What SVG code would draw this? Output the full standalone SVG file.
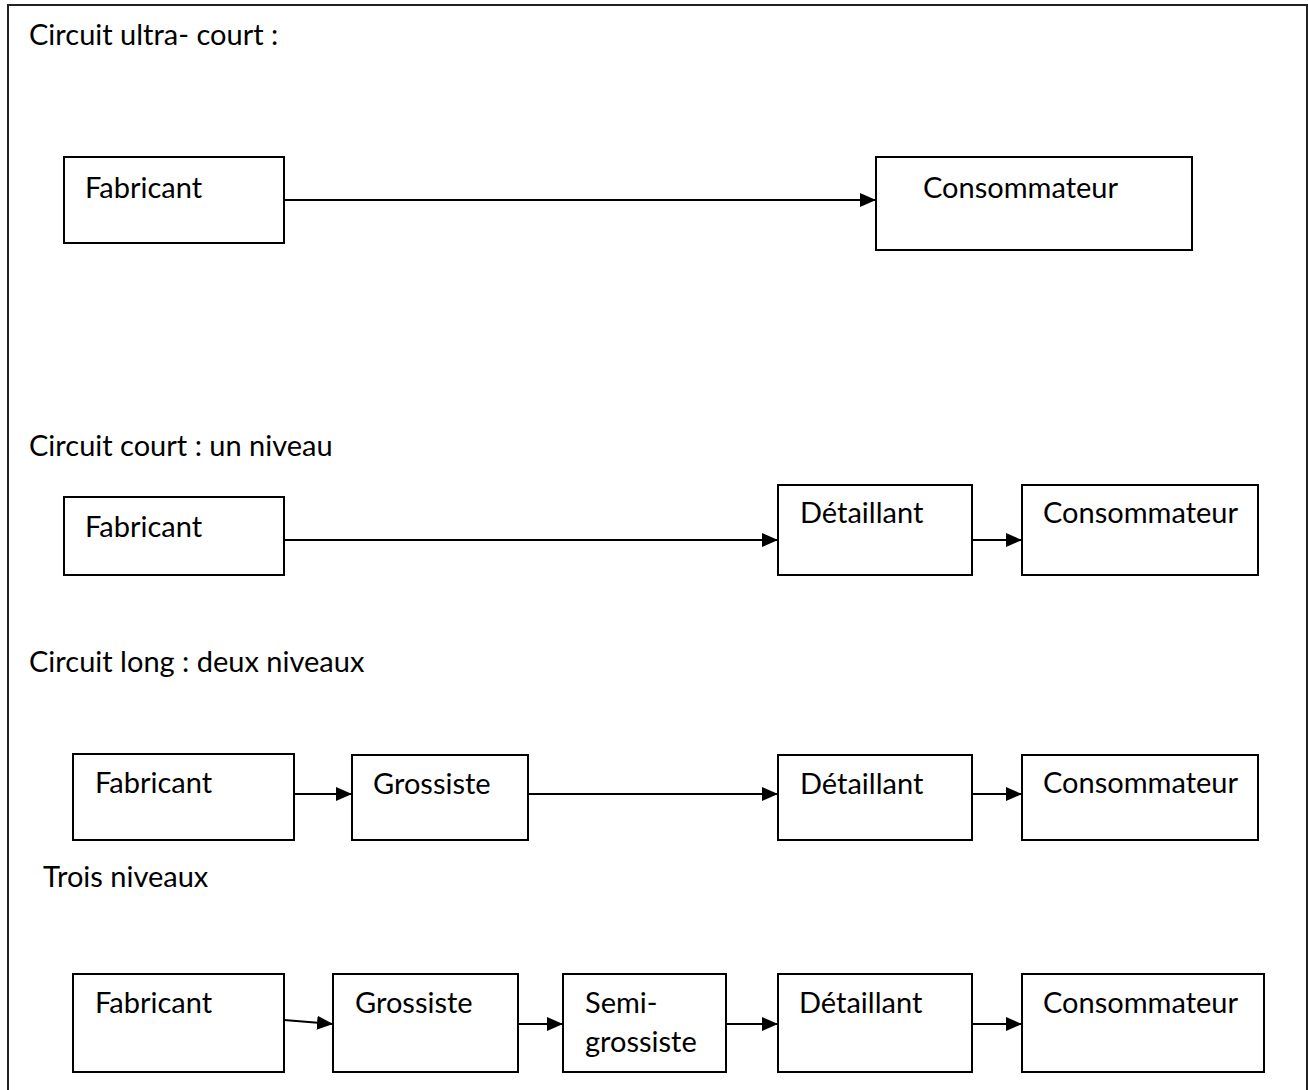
<svg xmlns="http://www.w3.org/2000/svg" width="1308" height="1090" viewBox="0 0 1308 1090">
  <style>
    .frame { fill: none; stroke: #222; stroke-width: 2; }
    .box { fill: #fff; stroke: #000; stroke-width: 2; }
    .lbl { font-family: Lato, "Liberation Sans", sans-serif; font-size: 29px; fill: #000; }
    .edge { fill: none; stroke: #000; stroke-width: 2; }
  </style>
  <defs>
    <marker id="arrow" markerUnits="userSpaceOnUse" markerWidth="16" markerHeight="14" refX="16" refY="7" orient="auto">
      <path d="M0,0 L16,7 L0,14 z" fill="#000"/>
    </marker>
  </defs>

  <rect width="1308" height="1090" fill="#fff"/>
  <!-- page frame (open at the bottom) -->
  <path class="frame" d="M8,1090 V5 H1307 V1090"/>

  <!-- section headings -->
  <text class="lbl" x="29" y="45">Circuit ultra- court :</text>
  <text class="lbl" x="29" y="456">Circuit court : un niveau</text>
  <text class="lbl" x="29" y="672">Circuit long : deux niveaux</text>
  <text class="lbl" x="43" y="887">Trois niveaux</text>

  <!-- connectors -->
  <g id="connectors">
    <line class="edge" x1="284" y1="200" x2="876" y2="200" marker-end="url(#arrow)"/>

    <line class="edge" x1="284" y1="540" x2="778" y2="540" marker-end="url(#arrow)"/>
    <line class="edge" x1="972" y1="540" x2="1022" y2="540" marker-end="url(#arrow)"/>

    <line class="edge" x1="294" y1="794" x2="352" y2="794" marker-end="url(#arrow)"/>
    <line class="edge" x1="528" y1="794" x2="778" y2="794" marker-end="url(#arrow)"/>
    <line class="edge" x1="972" y1="794" x2="1022" y2="794" marker-end="url(#arrow)"/>

    <line class="edge" x1="284" y1="1020" x2="333" y2="1024" marker-end="url(#arrow)"/>
    <line class="edge" x1="518" y1="1024" x2="563" y2="1024" marker-end="url(#arrow)"/>
    <line class="edge" x1="726" y1="1024" x2="778" y2="1024" marker-end="url(#arrow)"/>
    <line class="edge" x1="972" y1="1024" x2="1022" y2="1024" marker-end="url(#arrow)"/>
  </g>

  <!-- circuit ultra-court -->
  <g id="uc-fabricant"><rect class="box" x="64" y="157" width="220" height="86"/><text class="lbl" x="85" y="198">Fabricant</text></g>
  <g id="uc-consommateur"><rect class="box" x="876" y="157" width="316" height="93"/><text class="lbl" x="923" y="198">Consommateur</text></g>

  <!-- circuit court -->
  <g id="c1-fabricant"><rect class="box" x="64" y="497" width="220" height="78"/><text class="lbl" x="85" y="537">Fabricant</text></g>
  <g id="c1-detaillant"><rect class="box" x="778" y="485" width="194" height="90"/><text class="lbl" x="800" y="523">Détaillant</text></g>
  <g id="c1-consommateur"><rect class="box" x="1022" y="485" width="236" height="90"/><text class="lbl" x="1043" y="523">Consommateur</text></g>

  <!-- circuit long, deux niveaux -->
  <g id="c2-fabricant"><rect class="box" x="73" y="754" width="221" height="86"/><text class="lbl" x="95" y="793">Fabricant</text></g>
  <g id="c2-grossiste"><rect class="box" x="352" y="755" width="176" height="85"/><text class="lbl" x="373" y="794">Grossiste</text></g>
  <g id="c2-detaillant"><rect class="box" x="778" y="755" width="194" height="85"/><text class="lbl" x="800" y="794">Détaillant</text></g>
  <g id="c2-consommateur"><rect class="box" x="1022" y="755" width="236" height="85"/><text class="lbl" x="1043" y="793">Consommateur</text></g>

  <!-- trois niveaux -->
  <g id="c3-fabricant"><rect class="box" x="73" y="974" width="211" height="98"/><text class="lbl" x="95" y="1013">Fabricant</text></g>
  <g id="c3-grossiste"><rect class="box" x="333" y="974" width="185" height="98"/><text class="lbl" x="355" y="1013">Grossiste</text></g>
  <g id="c3-semigrossiste"><rect class="box" x="563" y="974" width="163" height="98"/><text class="lbl" x="585" y="1013">Semi-</text><text class="lbl" x="585" y="1052">grossiste</text></g>
  <g id="c3-detaillant"><rect class="box" x="778" y="974" width="194" height="98"/><text class="lbl" x="799" y="1013">Détaillant</text></g>
  <g id="c3-consommateur"><rect class="box" x="1022" y="974" width="242" height="98"/><text class="lbl" x="1043" y="1013">Consommateur</text></g>
</svg>
